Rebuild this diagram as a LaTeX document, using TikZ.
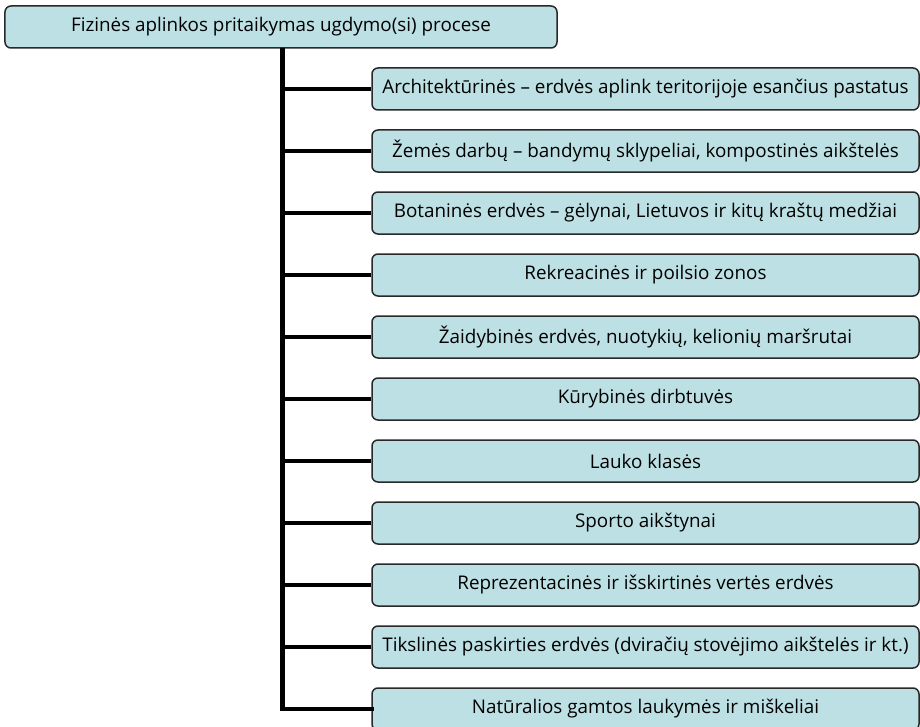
\documentclass[tikz,border=0pt]{standalone}
\usepackage{fontspec}
\setmainfont{Open Sans}
\usepackage{tikz}
\usepackage{color}

\definecolor{boxfill}{RGB}{189,224,228}
\definecolor{boxline}{RGB}{40,40,40}

\begin{document}
\begin{tikzpicture}[%
      x=1bp, y=-1bp,
      box/.style={draw=boxline, fill=boxfill, line width=1.5bp, rounded corners=6bp,
        inner sep=0pt, font=\fontsize{18.9}{22}\selectfont},
      topbox/.style={box, minimum width=552bp, minimum height=42bp},
      item/.style={box, minimum width=547bp, minimum height=42bp},
      trunk/.style={color=black, line width=5bp},
      branch/.style={color=black, line width=4.5bp},
      ]
      \clip (0,0) rectangle (920,727);

      \node[topbox] (top) at (281,27) {Fizinės aplinkos pritaikymas ugdymo(si) procese};

      \node[item] (c1) at (645.5,89) {Architektūrinės – erdvės aplink teritorijoje esančius pastatus};
      \node[item] (c2) at (645.5,151) {Žemės darbų – bandymų sklypeliai, kompostinės aikštelės};
      \node[item] (c3) at (645.5,213) {Botaninės erdvės – gėlynai, Lietuvos ir kitų kraštų medžiai};
      \node[item] (c4) at (645.5,275) {Rekreacinės ir poilsio zonos};
      \node[item] (c5) at (645.5,337) {Žaidybinės erdvės, nuotykių, kelionių maršrutai};
      \node[item] (c6) at (645.5,399) {Kūrybinės dirbtuvės};
      \node[item] (c7) at (645.5,461) {Lauko klasės};
      \node[item] (c8) at (645.5,523) {Sporto aikštynai};
      \node[item] (c9) at (645.5,585) {Reprezentacinės ir išskirtinės vertės erdvės};
      \node[item] (c10) at (645.5,647) {Tikslinės paskirties erdvės (dviračių stovėjimo aikštelės ir kt.)};
      \node[item] (c11) at (645.5,709) {Natūralios gamtos laukymės ir miškeliai};

      \coordinate (root) at (282,48);

      \draw [trunk] (root) -- (root |- c11.west);
      \draw [branch] (root |- c1.west) -- (c1.west);
      \draw [branch] (root |- c2.west) -- (c2.west);
      \draw [branch] (root |- c3.west) -- (c3.west);
      \draw [branch] (root |- c4.west) -- (c4.west);
      \draw [branch] (root |- c5.west) -- (c5.west);
      \draw [branch] (root |- c6.west) -- (c6.west);
      \draw [branch] (root |- c7.west) -- (c7.west);
      \draw [branch] (root |- c8.west) -- (c8.west);
      \draw [branch] (root |- c9.west) -- (c9.west);
      \draw [branch] (root |- c10.west) -- (c10.west);
      \draw [branch, line cap=rect] (root |- c11.west) -- (c11.west);
      \end{tikzpicture}
\end{document}
